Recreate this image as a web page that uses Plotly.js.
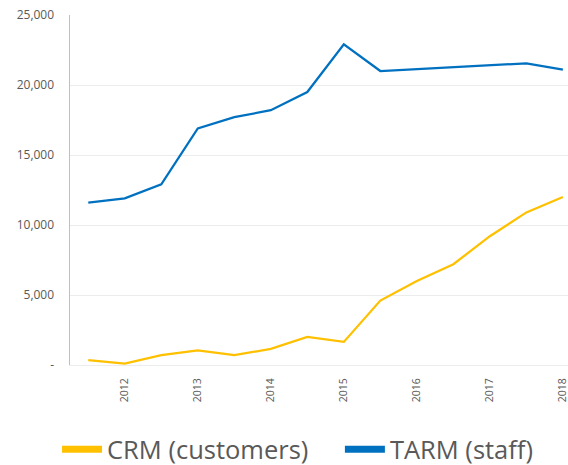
<!DOCTYPE html>
<html><head><meta charset="utf-8">
<script src="https://cdn.plot.ly/plotly-3.0.1.min.js"></script>
<style>html,body{margin:0;padding:0;background:#fff}</style>
</head><body><div id="chart" style="width:568px;height:465px"></div>
<script>
const periods = [2011.5, 2012, 2012.5, 2013, 2013.5, 2014, 2014.5, 2015, 2015.5, 2016, 2016.5, 2017, 2017.5, 2018];
const crmCustomers = [350, 100, 700, 1050, 700, 1150, 2000, 1650, 4600, 6000, 7200, 9200, 10900, 12000];
const tarmStaff = [11600, 11900, 12900, 16900, 17700, 18200, 19500, 22900, 21000, 21150, 21300, 21400, 21550, 21100];
const seriesNames = ['CRM (customers)', 'TARM (staff)'];
const seriesColors = ['#FFC000', '#0070C0'];
const yearTicks = [2012, 2013, 2014, 2015, 2016, 2017, 2018];
const yTicks = [0, 5000, 10000, 15000, 20000, 25000];
const yTickText = ['-', '5,000', '10,000', '15,000', '20,000', '25,000'];

const data = [
  {x: periods, y: crmCustomers, name: seriesNames[0], type: 'scatter', mode: 'lines',
   line: {color: seriesColors[0], width: 2.25}, showlegend: false},
  {x: periods, y: tarmStaff, name: seriesNames[1], type: 'scatter', mode: 'lines',
   line: {color: seriesColors[1], width: 2.25}, showlegend: false},
  {x: [null], y: [null], name: seriesNames[0] + '\u00a0\u00a0\u00a0\u00a0', type: 'scatter', mode: 'lines',
   line: {color: seriesColors[0], width: 7}, showlegend: true},
  {x: [null], y: [null], name: seriesNames[1], type: 'scatter', mode: 'lines',
   line: {color: seriesColors[1], width: 7}, showlegend: true}
];
const layout = {
  width: 568, height: 465,
  margin: {l: 70, r: 0, t: 15, b: 100, autoexpand: false},
  paper_bgcolor: '#fff', plot_bgcolor: '#fff',
  font: {family: 'Open Sans, sans-serif', color: '#595959'},
  xaxis: {range: [2011.25, 2018.07], tickvals: yearTicks, ticktext: yearTicks.map(String),
    tickangle: -90, tickfont: {size: 10.5, color: '#595959'}, showgrid: false, zeroline: false,
    showline: true, linecolor: '#ececec', linewidth: 1, ticks: '', ticklabelstandoff: 8,
    ticklabeloverflow: 'allow', automargin: false},
  yaxis: {range: [0, 25000], tickvals: yTicks, ticktext: yTickText,
    tickfont: {size: 12, color: '#595959'}, showgrid: true, gridcolor: '#ececec', gridwidth: 1,
    zeroline: false, showline: true, linecolor: '#bfbfbf', linewidth: 1.5, ticks: '',
    ticklabelstandoff: 12, automargin: false},
  showlegend: true,
  legend: {orientation: 'h', x: -0.026, xanchor: 'left', y: -0.242, yanchor: 'middle',
    font: {size: 25.5, color: '#595959'}, itemwidth: 40, tracegroupgap: 0},
};
Plotly.newPlot('chart', data, layout, {displayModeBar: false, staticPlot: true});
</script></body></html>
